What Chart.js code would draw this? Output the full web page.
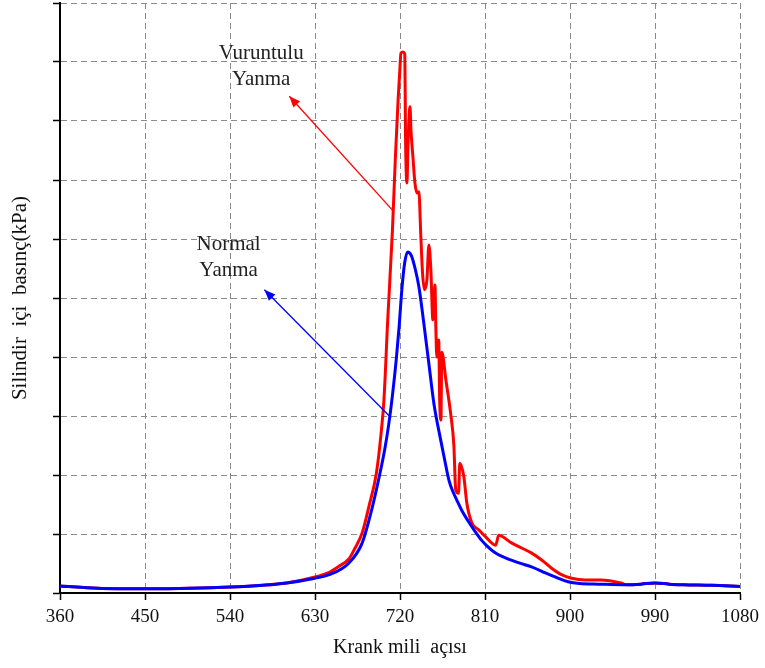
<!DOCTYPE html>
<html>
<head>
<meta charset="utf-8">
<script src="https://cdn.jsdelivr.net/npm/chart.js@4"></script>
<style>
  html, body { margin: 0; padding: 0; background: #fff; }
  #wrap { width: 765px; height: 668px; }
</style>
</head>
<body>
<div id="wrap"><canvas id="pressureChart"></canvas></div>
<script>
const xTicks = [360, 450, 540, 630, 720, 810, 900, 990, 1080];

// Normal Yanma (blue)
const normalAngle = [360, 400, 450, 540, 600, 630, 645, 666, 680, 690, 698, 704, 708, 712, 716, 719, 722, 725, 728, 732,
    736, 740, 745, 751, 756, 763, 768, 772, 776, 780, 786, 793, 800, 806, 812, 820, 828, 846, 860, 874,
    886, 898, 910, 930, 960, 975, 990, 1005, 1020, 1050, 1080];
const normalPressure = [0.12, 0.08, 0.07, 0.10, 0.17, 0.25, 0.31, 0.51, 0.85, 1.41, 1.97, 2.45, 2.85, 3.35, 3.95, 4.50, 5.15, 5.60, 5.78, 5.72,
    5.50, 5.19, 4.60, 3.83, 3.20, 2.60, 2.20, 1.90, 1.72, 1.58, 1.38, 1.20, 1.03, 0.90, 0.80, 0.69, 0.62, 0.51, 0.44, 0.34,
    0.26, 0.19, 0.16, 0.15, 0.14, 0.15, 0.17, 0.15, 0.14, 0.13, 0.11];

// Vuruntulu Yanma (red)
const knockAngle = [360, 400, 450, 540, 600, 630, 645, 655, 666, 672, 680, 687, 695, 700, 703, 707, 712, 715, 718, 720,
    721, 723, 725, 726, 727.4, 728.4, 730.6, 731.6, 733.7, 735.8, 738, 740, 742, 744, 746, 748.5, 750.6, 752.7, 754.8, 756,
    757, 758, 759, 761, 762, 763.3, 764.3, 768.6, 773.8, 777, 779, 782, 783.3, 787.6, 790.7, 796, 803.4, 810.8, 821.3, 824.5,
    838, 859, 870, 880.5, 891, 901.6, 916, 933, 954, 960, 975, 990, 1005, 1020, 1050, 1080];
const knockPressure = [0.12, 0.08, 0.07, 0.10, 0.17, 0.27, 0.35, 0.45, 0.58, 0.75, 1.02, 1.46, 2.03, 2.71, 3.27, 4.63, 6.15, 7.34, 8.36, 8.92,
    9.15, 9.17, 9.14, 7.56, 6.95, 7.56, 8.24, 7.85, 7.39, 6.95, 6.78, 6.80, 6.07, 5.39, 5.14, 5.31, 5.90, 5.47, 4.63, 4.97,
    5.22, 4.46, 4.00, 4.29, 3.27, 2.93, 4.08, 3.61, 3.02, 2.51, 1.75, 1.69, 2.20, 1.97, 1.53, 1.19, 1.07, 0.95, 0.81, 0.98,
    0.85, 0.68, 0.56, 0.42, 0.31, 0.25, 0.22, 0.22, 0.17, 0.14, 0.15, 0.17, 0.15, 0.14, 0.13, 0.11];

const serif = '"Liberation Serif", "Times New Roman", serif';

// arrows + labels, in data units
const callouts = [
    { lines: ['Vuruntulu', 'Yanma'], text: [573, 9.15], from: [713.7, 6.46], to: [602.8, 8.42], color: '#ff0000' },
    { lines: ['Normal', 'Yanma'], text: [538.5, 5.90], from: [710.5, 2.97], to: [576.4, 5.14], color: '#0000ff' }
];

const calloutPlugin = {
    id: 'callouts',
    afterDatasetsDraw(chart) {
        const { ctx, scales: { x, y } } = chart;
        ctx.save();
        callouts.forEach(c => {
            const x1 = x.getPixelForValue(c.from[0]), y1 = y.getPixelForValue(c.from[1]);
            const x2 = x.getPixelForValue(c.to[0]), y2 = y.getPixelForValue(c.to[1]);
            ctx.strokeStyle = c.color;
            ctx.fillStyle = c.color;
            ctx.lineWidth = 1.3;
            ctx.beginPath();
            ctx.moveTo(x1, y1);
            ctx.lineTo(x2, y2);
            ctx.stroke();
            const a = Math.atan2(y2 - y1, x2 - x1);
            const len = 11, half = 4.5;
            ctx.beginPath();
            ctx.moveTo(x2, y2);
            ctx.lineTo(x2 - len * Math.cos(a) + half * Math.sin(a), y2 - len * Math.sin(a) - half * Math.cos(a));
            ctx.lineTo(x2 - len * Math.cos(a) - half * Math.sin(a), y2 - len * Math.sin(a) + half * Math.cos(a));
            ctx.closePath();
            ctx.fill();

            ctx.fillStyle = '#222';
            ctx.font = '21px ' + serif;
            ctx.textAlign = 'center';
            ctx.textBaseline = 'middle';
            const tx = x.getPixelForValue(c.text[0]), ty = y.getPixelForValue(c.text[1]);
            c.lines.forEach((s, i) => ctx.fillText(s, tx, ty + i * 26));
        });
        ctx.restore();
    }
};

const ctx = document.getElementById('pressureChart').getContext('2d');
new Chart(ctx, {
    type: 'line',
    data: {
        datasets: [
            {
                label: 'Normal Yanma',
                data: normalAngle.map((a, i) => ({ x: a, y: normalPressure[i] })),
                borderColor: '#0000ff',
                borderWidth: 3,
                cubicInterpolationMode: 'monotone',
                order: 0
            },
            {
                label: 'Vuruntulu Yanma',
                data: knockAngle.map((a, i) => ({ x: a, y: knockPressure[i] })),
                borderColor: '#ff0000',
                borderWidth: 3,
                cubicInterpolationMode: 'monotone',
                order: 1
            }
        ]
    },
    options: {
        responsive: true,
        maintainAspectRatio: false,
        animation: false,
        layout: { padding: { top: 3, right: 23, left: 0, bottom: 0 } },
        plugins: { legend: { display: false }, tooltip: { enabled: false } },
        elements: { point: { radius: 0 } },
        scales: {
            x: {
                type: 'linear',
                min: 360,
                max: 1080,
                afterBuildTicks: s => { s.ticks = xTicks.map(v => ({ value: v })); },
                afterFit: s => { s.height = 75; },
                ticks: { color: '#111', font: { family: serif, size: 19 }, padding: 6, maxRotation: 0, autoSkip: false,
                    callback: v => String(v) },
                grid: { color: '#8a8a8a', lineWidth: 1, tickLength: 7, tickColor: '#000', tickWidth: 1.5 },
                border: { color: '#000', width: 2, dash: [6, 4] },
                title: { display: true, text: 'Krank mili  açısı', color: '#111', font: { family: serif, size: 20 }, padding: { top: 0, bottom: 8 } }
            },
            y: {
                min: 0,
                max: 10,
                afterFit: s => { s.width = 60; },
                ticks: { stepSize: 1, display: false },
                grid: { color: '#8a8a8a', lineWidth: 1, tickLength: 7, tickColor: '#000', tickWidth: 1.5 },
                border: { color: '#000', width: 2, dash: [6, 4] },
                title: { display: true, text: 'Silindir  içi  basınç(kPa)', color: '#111', font: { family: serif, size: 21 }, padding: { top: 8, bottom: 0 } }
            }
        }
    },
    plugins: [calloutPlugin]
});
</script>
</body>
</html>
